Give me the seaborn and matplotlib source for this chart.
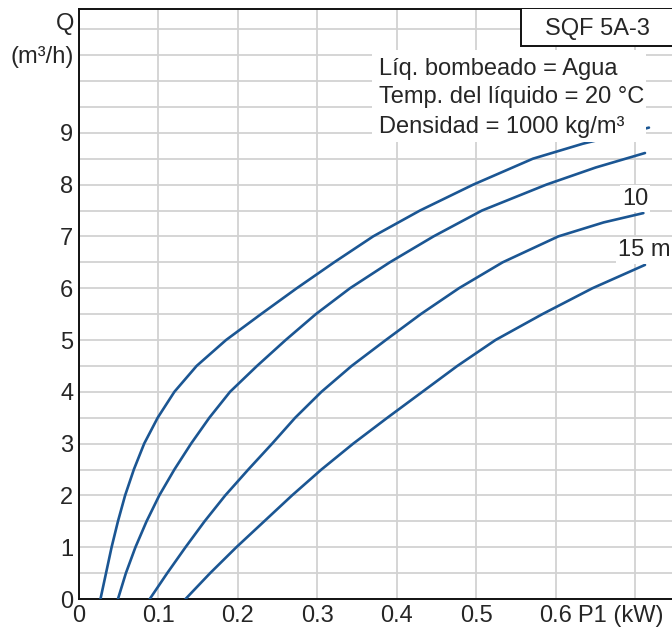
import numpy as np
import pandas as pd
import matplotlib
matplotlib.use("Agg")
import matplotlib.pyplot as plt
from matplotlib.patches import Rectangle
import seaborn as sns

# curvas P1 (kW) - Q (m3/h)
p1_a = [0.027, 0.034, 0.041, 0.049, 0.058, 0.069, 0.082, 0.099, 0.120, 0.148, 0.185,
        0.229, 0.274, 0.321, 0.370, 0.429, 0.496, 0.571, 0.634, 0.717]
q_a = [0.0, 0.5, 1.0, 1.5, 2.0, 2.5, 3.0, 3.5, 4.0, 4.5, 5.0,
       5.5, 6.0, 6.5, 7.0, 7.5, 8.0, 8.5, 8.79, 9.1]

p1_b = [0.049, 0.059, 0.071, 0.085, 0.101, 0.120, 0.141, 0.164, 0.190, 0.224, 0.260,
        0.298, 0.341, 0.391, 0.446, 0.507, 0.588, 0.650, 0.712]
q_b = [0.0, 0.5, 1.0, 1.5, 2.0, 2.5, 3.0, 3.5, 4.0, 4.5, 5.0,
       5.5, 6.0, 6.5, 7.0, 7.5, 8.0, 8.33, 8.61]

p1_c = [0.089, 0.111, 0.134, 0.158, 0.184, 0.213, 0.243, 0.272, 0.305, 0.343, 0.386,
        0.430, 0.478, 0.533, 0.603, 0.660, 0.710]
q_c = [0.0, 0.5, 1.0, 1.5, 2.0, 2.5, 3.0, 3.5, 4.0, 4.5, 5.0,
       5.5, 6.0, 6.5, 7.0, 7.27, 7.45]

p1_d = [0.134, 0.165, 0.198, 0.233, 0.268, 0.305, 0.345, 0.388, 0.432, 0.476, 0.524,
        0.583, 0.646, 0.712]
q_d = [0.0, 0.5, 1.0, 1.5, 2.0, 2.5, 3.0, 3.5, 4.0, 4.5, 5.0,
       5.5, 6.0, 6.45]

x_ticks = [0, 0.1, 0.2, 0.3, 0.4, 0.5, 0.6, 0.7]
x_labels = ["0", "0.1", "0.2", "0.3", "0.4", "0.5", "0.6", ""]
y_ticks = np.arange(0, 11.01, 0.5)
y_labels = [str(int(v)) if (v == int(v) and v <= 9) else "" for v in y_ticks]

info_lines = ["Líq. bombeado = Agua", "Temp. del líquido = 20 °C", "Densidad = 1000 kg/m³"]

df = pd.concat([
    pd.DataFrame({"P1": p1_a, "Q": q_a, "curva": "a"}),
    pd.DataFrame({"P1": p1_b, "Q": q_b, "curva": "b"}),
    pd.DataFrame({"P1": p1_c, "Q": q_c, "curva": "c"}),
    pd.DataFrame({"P1": p1_d, "Q": q_d, "curva": "d"}),
])

sns.set_style("white")
plt.rcParams["font.family"] = ["Liberation Sans", "DejaVu Sans"]

W, H = 672, 627
fig = plt.figure(figsize=(W / 100, H / 100), dpi=100)
ax = fig.add_axes([79 / W, (H - 599) / H, (W - 79) / W, (599 - 9) / H])

blue = "#1b5693"
txt = "#262626"

sns.lineplot(data=df, x="P1", y="Q", units="curva", estimator=None, sort=False,
             color=blue, linewidth=1.9, ax=ax, zorder=3)

ax.set_xlim(0, 0.746)
ax.set_ylim(0, 11.39)
ax.set_xticks(x_ticks)
ax.set_xticklabels(x_labels)
ax.set_yticks(y_ticks)
ax.set_yticklabels(y_labels)
ax.tick_params(length=0, labelsize=17, colors=txt, pad=4)
ax.grid(True, color="#d2d2d2", linewidth=1.3, zorder=0)
ax.set_axisbelow(True)
ax.set_xlabel("")
ax.set_ylabel("")

for s in ["left", "bottom", "top"]:
    ax.spines[s].set_color("#111111")
    ax.spines[s].set_linewidth(1.4)
ax.spines["right"].set_visible(False)

# titulo de eje Q y unidades
yt = ax.get_yaxis_transform()
ax.text(-0.008, 11.1, "Q", transform=yt, ha="right", va="center", fontsize=17, color=txt)
ax.text(-0.008, 10.47, "(m³/h)", transform=yt, ha="right", va="center", fontsize=17, color=txt)

# etiqueta eje x
ax.annotate("P1 (kW)", xy=(0.628, 0), xycoords=ax.get_xaxis_transform(),
            xytext=(0, -4), textcoords="offset points", ha="left", va="top",
            fontsize=17, color=txt, annotation_clip=False)

# recuadro del modelo
ax.add_patch(Rectangle((0.556, 10.68), 0.3, 1.0, facecolor="white", edgecolor="#111111",
                       linewidth=1.4, zorder=5, clip_on=True))
ax.text(0.586, 10.89, "SQF 5A-3", ha="left", va="baseline", fontsize=17, color=txt, zorder=6)

# bloque de informacion
ax.add_patch(Rectangle((0.3686, 8.826), 0.3444, 1.774, facecolor="white", edgecolor="none",
                       zorder=4))
for line, yb in zip(info_lines, [10.12, 9.573, 9.005]):
    ax.text(0.377, yb, line, ha="left", va="baseline", fontsize=17, color=txt, zorder=6)

# etiquetas de altura
box = dict(facecolor="white", edgecolor="none", pad=1.5)
ax.text(0.683, 7.73, "10", ha="left", va="center", fontsize=17, color=txt, bbox=box, zorder=6)
ax.text(0.678, 6.73, "15 m", ha="left", va="center", fontsize=17, color=txt, bbox=box, zorder=6)

fig.savefig("out.png", dpi=100)
